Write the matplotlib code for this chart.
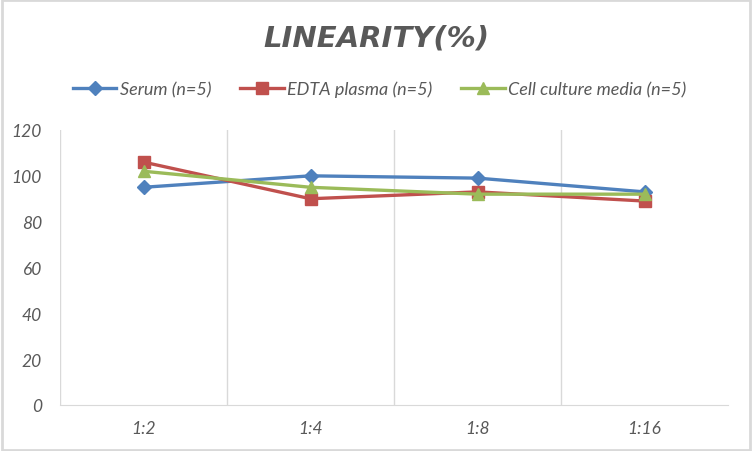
import matplotlib.pyplot as plt
from matplotlib.patches import Rectangle

# ---------------------------------- Data ----------------------------------
dilutions = ['1:2', '1:4', '1:8', '1:16']
serum = [95, 100, 99, 93]
edta_plasma = [106, 90, 93, 89]
cell_culture = [102, 95, 92, 92]

series_names = ['Serum (n=5)', 'EDTA plasma (n=5)', 'Cell culture media (n=5)']

# ---------------------------------- Figure --------------------------------
plt.rcParams['font.family'] = ['Lato', 'DejaVu Sans']
text_grey = '#595959'

fig = plt.figure(figsize=(7.52, 4.52), dpi=100)
ax = fig.add_axes([60 / 752, 46 / 452, 668 / 752, 275 / 452])

x = range(len(dilutions))
ax.plot(x, serum, color='#4F81BD', lw=2.4, marker='D', ms=7, label=series_names[0])
ax.plot(x, edta_plasma, color='#C0504D', lw=2.4, marker='s', ms=9, label=series_names[1])
ax.plot(x, cell_culture, color='#9BBB59', lw=2.4, marker='^', ms=9, label=series_names[2])

ax.set_xlim(-0.5, len(dilutions) - 0.5)
ax.set_ylim(0, 120)
ax.set_yticks(range(0, 121, 20))
ax.set_xticks(list(x))
ax.set_xticklabels(dilutions)

# vertical separators between categories (Excel style)
for b in [-0.5, 0.5, 1.5, 2.5]:
    ax.axvline(b, color='#D9D9D9', lw=1, zorder=0)

for s in ['top', 'right', 'left']:
    ax.spines[s].set_visible(False)
ax.spines['bottom'].set_color('#D9D9D9')
ax.tick_params(length=0, labelsize=12.5, labelcolor=text_grey)
ax.tick_params(axis='x', pad=11)
ax.tick_params(axis='y', pad=13)
for lab in ax.get_xticklabels() + ax.get_yticklabels():
    lab.set_style('italic')

fig.text(0.5, 1 - 38 / 452, 'LINEARITY(%)', ha='center', va='center',
         fontsize=21, fontweight='bold', style='italic', color=text_grey,
         family='DejaVu Sans')

leg = fig.legend(loc='center', bbox_to_anchor=(0.505, 1 - 90 / 452), ncol=3,
                 frameon=False, handlelength=2.4, columnspacing=1.6,
                 handletextpad=0.2, prop={'size': 13, 'style': 'italic'})
for t in leg.get_texts():
    t.set_color(text_grey)

fig.patches.append(Rectangle((0.002, 0.003), 0.996, 0.994, transform=fig.transFigure,
                             fill=False, edgecolor='#D9D9D9', lw=2))

fig.savefig('out.png', dpi=100)
